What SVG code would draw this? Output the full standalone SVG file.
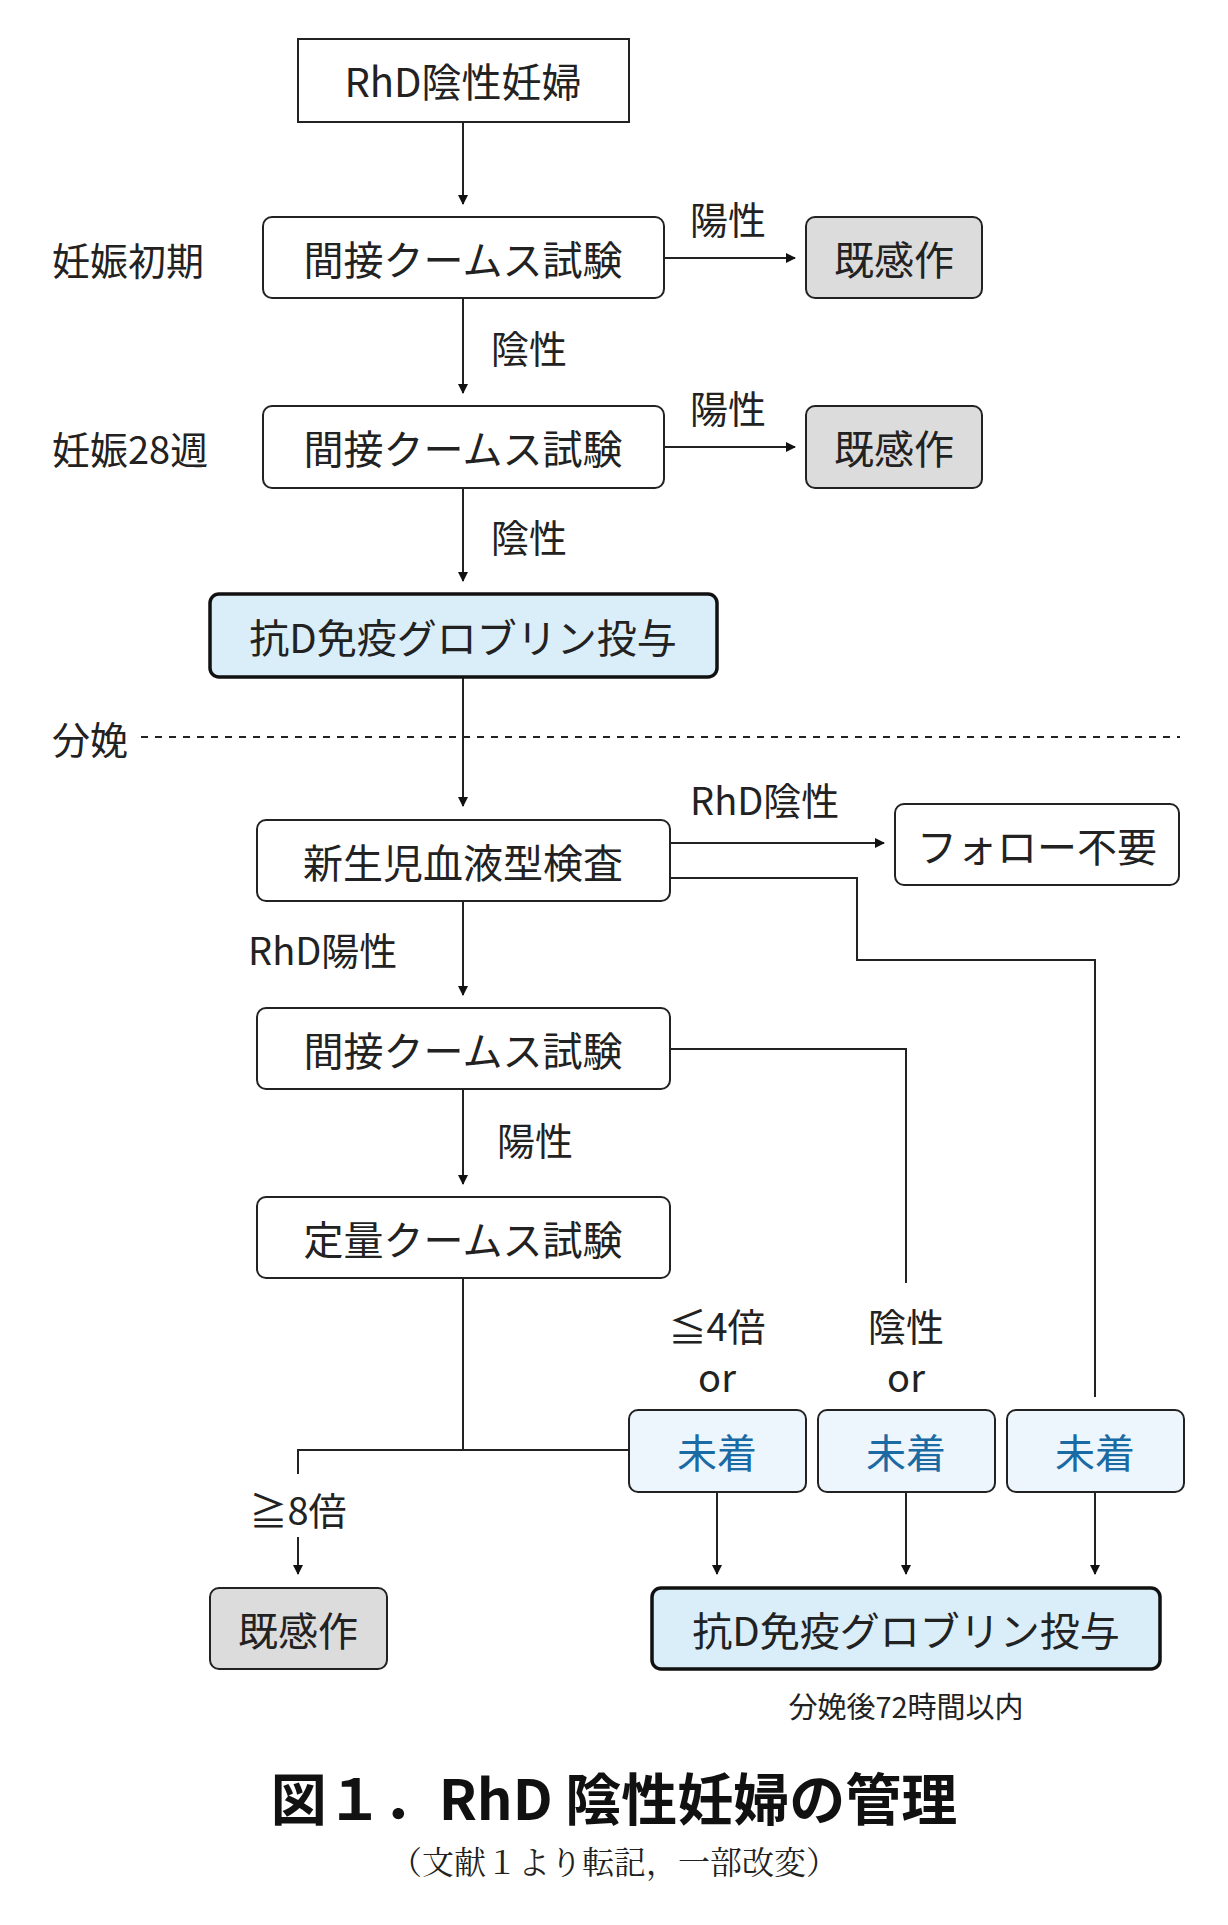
<svg xmlns="http://www.w3.org/2000/svg" width="1228" height="1925" viewBox="0 0 1228 1925">
<defs>
<marker id="ah" markerWidth="10" markerHeight="10" refX="9" refY="5" orient="auto" markerUnits="userSpaceOnUse" viewBox="0 0 10 10"><path d="M0,0 L10,5 L0,10 z" fill="#111"/></marker>
<style>
text{font-family:"Noto Sans CJK JP","Noto Sans",sans-serif;fill:#222;}
.t{font-size:40px;text-anchor:middle;dominant-baseline:central;}
.l{font-size:38px;dominant-baseline:central;}
.b{fill:#fff;stroke:#222;stroke-width:2;}
.g{fill:#dcdcdc;stroke:#222;stroke-width:2;}
.blue{fill:#daeefa;stroke:#111;stroke-width:3.5;}
.pale{fill:#eef6fd;stroke:#222;stroke-width:2;}
.bt{fill:#1a6aa3;}
.c{fill:none;stroke:#222;stroke-width:2;}
.a{marker-end:url(#ah);}
</style>
</defs>
<rect width="1228" height="1925" fill="#fff"/>
<g id="labels">
<text class="l" x="52" y="258">妊娠初期</text>
<text class="l" x="52" y="447">妊娠28週</text>
<text class="l" x="52" y="737">分娩</text>
<text class="l" x="690" y="217">陽性</text>
<text class="l" x="491" y="346">陰性</text>
<text class="l" x="690" y="406">陽性</text>
<text class="l" x="491" y="535">陰性</text>
<text class="l" x="690" y="798">RhD陰性</text>
<text class="l" x="248" y="948">RhD陽性</text>
<text class="l" x="497" y="1138">陽性</text>
<text class="l" x="717" y="1324" text-anchor="middle">≦4倍</text>
<text class="l" x="717" y="1375" text-anchor="middle">or</text>
<text class="l" x="906" y="1324" text-anchor="middle">陰性</text>
<text class="l" x="906" y="1375" text-anchor="middle">or</text>
<text class="l" x="298" y="1508" text-anchor="middle">≧8倍</text>
<text x="906" y="1705" font-size="29" text-anchor="middle" dominant-baseline="central">分娩後72時間以内</text>
<text x="614" y="1795" font-size="56" font-weight="bold" text-anchor="middle" dominant-baseline="central" style="fill:#111">図１．RhD 陰性妊婦の管理</text>
<text x="614" y="1860" font-size="32" text-anchor="middle" dominant-baseline="central" style="font-family:'Noto Serif CJK JP','Liberation Serif','Noto Sans CJK JP',serif">（文献１より転記，一部改変）</text>
</g>
<g id="connectors">
<line class="c a" x1="463" y1="122" x2="463" y2="204"/>
<line class="c a" x1="664" y1="258" x2="795" y2="258"/>
<line class="c a" x1="463" y1="298" x2="463" y2="393"/>
<line class="c a" x1="664" y1="447" x2="795" y2="447"/>
<line class="c a" x1="463" y1="488" x2="463" y2="581"/>
<line x1="141" y1="737" x2="1180" y2="737" stroke="#222" stroke-width="2" stroke-dasharray="7,7"/>
<line class="c a" x1="463" y1="677" x2="463" y2="806"/>
<line class="c a" x1="670" y1="843" x2="884" y2="843"/>
<polyline class="c" points="670,878 857,878 857,960 1095,960 1095,1397"/>
<line class="c a" x1="463" y1="901" x2="463" y2="995"/>
<polyline class="c" points="670,1049 906,1049 906,1283"/>
<line class="c a" x1="463" y1="1089" x2="463" y2="1184"/>
<line class="c" x1="463" y1="1278" x2="463" y2="1450"/>
<polyline class="c" points="629,1450 298,1450 298,1474"/>
<line class="c a" x1="298" y1="1537" x2="298" y2="1574"/>
<line class="c a" x1="717" y1="1492" x2="717" y2="1574"/>
<line class="c a" x1="906" y1="1492" x2="906" y2="1574"/>
<line class="c a" x1="1095" y1="1492" x2="1095" y2="1574"/>
</g>
<g id="n1"><rect class="b" x="298" y="39" width="331" height="83"/><text class="t" x="463" y="80">RhD陰性妊婦</text></g>
<g id="n2"><rect class="b" x="263" y="217" width="401" height="81" rx="9"/><text class="t" x="463" y="258">間接クームス試験</text></g>
<g id="n3"><rect class="g" x="806" y="217" width="176" height="81" rx="9"/><text class="t" x="894" y="258">既感作</text></g>
<g id="n4"><rect class="b" x="263" y="406" width="401" height="82" rx="9"/><text class="t" x="463" y="447">間接クームス試験</text></g>
<g id="n5"><rect class="g" x="806" y="406" width="176" height="82" rx="9"/><text class="t" x="894" y="447">既感作</text></g>
<g id="n6"><rect class="blue" x="210" y="594" width="507" height="83" rx="9"/><text class="t" x="463" y="636">抗D免疫グロブリン投与</text></g>
<g id="n7"><rect class="b" x="257" y="820" width="413" height="81" rx="9"/><text class="t" x="463" y="861">新生児血液型検査</text></g>
<g id="n8"><rect class="b" x="895" y="804" width="284" height="81" rx="9"/><text class="t" x="1037" y="845">フォロー不要</text></g>
<g id="n9"><rect class="b" x="257" y="1008" width="413" height="81" rx="9"/><text class="t" x="463" y="1049">間接クームス試験</text></g>
<g id="n10"><rect class="b" x="257" y="1197" width="413" height="81" rx="9"/><text class="t" x="463" y="1238">定量クームス試験</text></g>
<g id="n11"><rect class="pale" x="629" y="1410" width="177" height="82" rx="9"/><text class="t bt" x="717" y="1451">未着</text></g>
<g id="n12"><rect class="pale" x="818" y="1410" width="177" height="82" rx="9"/><text class="t bt" x="906" y="1451">未着</text></g>
<g id="n13"><rect class="pale" x="1007" y="1410" width="177" height="82" rx="9"/><text class="t bt" x="1095" y="1451">未着</text></g>
<g id="n14"><rect class="g" x="210" y="1588" width="177" height="81" rx="9"/><text class="t" x="298" y="1629">既感作</text></g>
<g id="n15"><rect class="blue" x="652" y="1588" width="508" height="81" rx="9"/><text class="t" x="906" y="1629">抗D免疫グロブリン投与</text></g>
</svg>
